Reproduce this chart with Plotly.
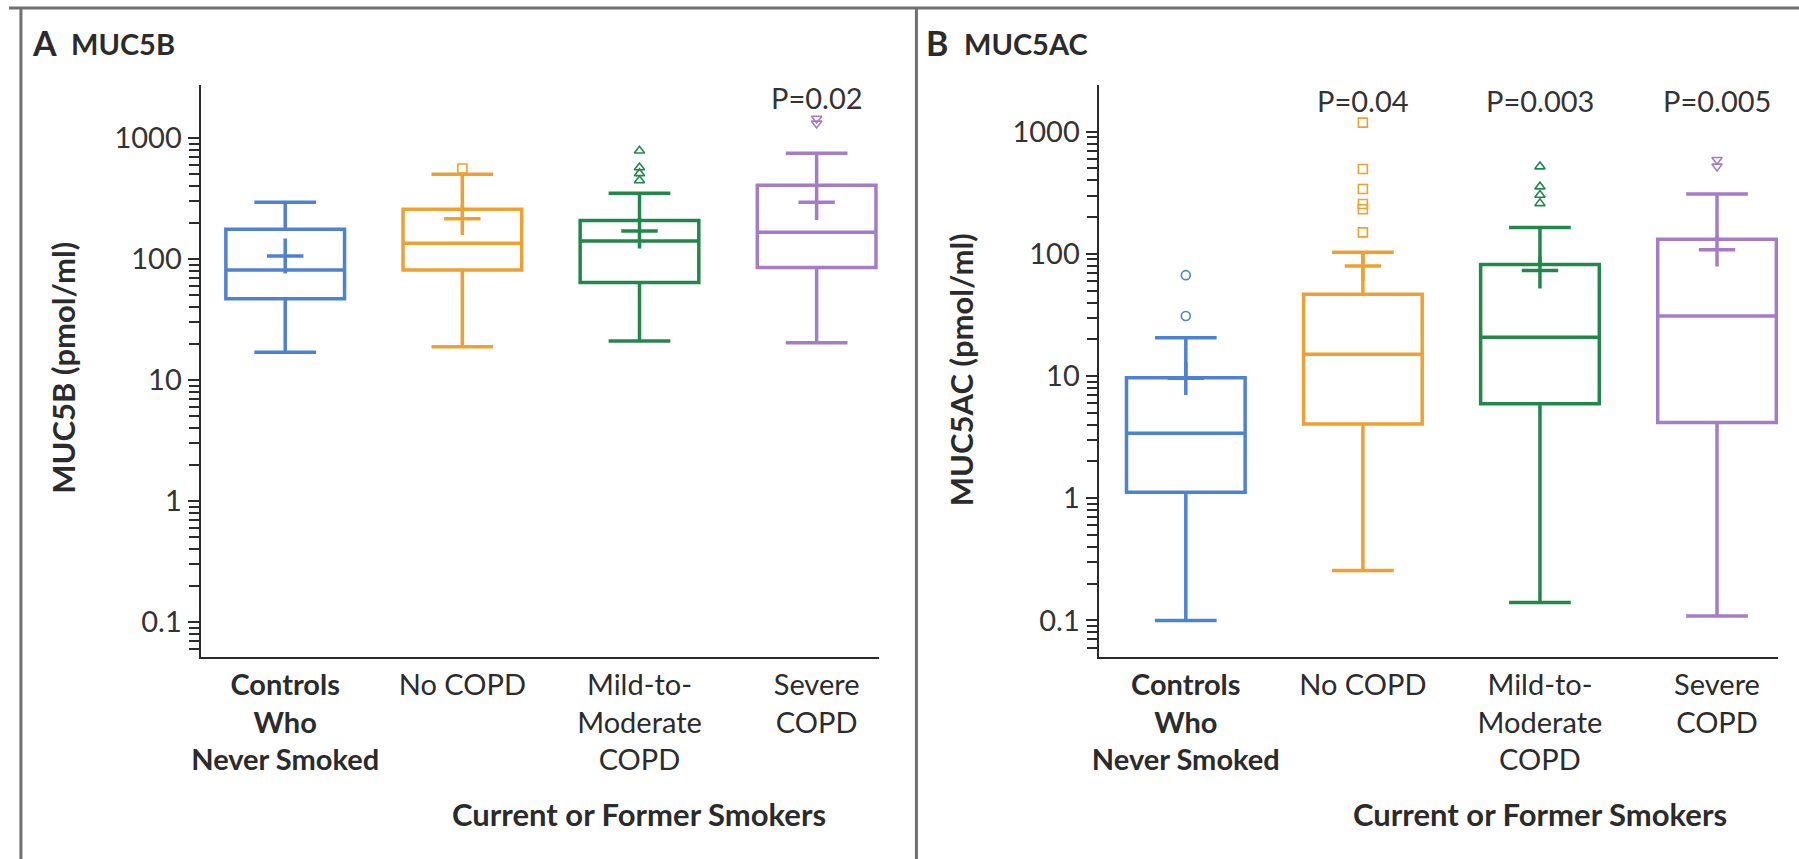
import plotly.graph_objects as go

# ---- data -------------------------------------------------------------
groups = ["Controls Who Never Smoked", "No COPD", "Mild-to-Moderate COPD", "Severe COPD"]
tick_text = ["<b>Controls</b><br><b>Who</b><br><b>Never Smoked</b>", "No COPD",
             "Mild-to-<br>Moderate<br>COPD", "Severe<br>COPD"]
colors = ["#4d82d2", "#f0a030", "#23874c", "#a57cc6"]
outlier_symbols = ["circle-open", "square-open", "triangle-up-open", "triangle-down-open"]

# MUC5B (pmol/ml)
b_q1 = [47, 81, 64, 85]
b_median = [81, 135, 141, 166]
b_q3 = [176, 258, 208, 406]
b_low = [17, 18.8, 21, 20.3]
b_high = [294, 501, 349, 747]
b_mean = [106, 215, 170, 294]
b_ci_lo = [76, 158, 122, 210]
b_ci_hi = [148, 279, 217, 396]
b_outliers = [[], [560], [785, 570, 510, 445], [1450, 1320]]
b_pvals = ["", "", "", "P=0.02"]

# MUC5AC (pmol/ml)
ac_q1 = [1.12, 4.06, 5.93, 4.17]
ac_median = [3.41, 15.1, 20.8, 31]
ac_q3 = [9.7, 46.8, 82, 132]
ac_low = [0.1, 0.256, 0.14, 0.109]
ac_high = [20.6, 103, 164, 309]
ac_mean = [9.6, 79.6, 73, 108]
ac_ci_lo = [7.0, 60, 52, 78.7]
ac_ci_hi = [13.0, 105, 95, 140]
ac_outliers = [[67, 31], [1185, 495, 340, 256, 232, 150], [518, 355, 303, 259], [590, 520]]
ac_pvals = ["", "P=0.04", "P=0.003", "P=0.005"]

y_tickvals = [0.1, 1, 10, 100, 1000]
y_ticktext = ["0.1", "1", "10", "100", "1000"]

# ---- layout helpers ---------------------------------------------------
W, H = 1799, 859
FONT = "Lato, 'Open Sans', sans-serif"
INK = "#2b2b2b"


def fx(px):
    return px / W


def fy(py):
    return 1 - py / H


minor_vals = [m * 10 ** e for e in range(-2, 3) for m in range(2, 10)
              if 0.04 < m * 10 ** e < 1000]

fig = go.Figure()


def add_panel(xa, ya, q1, med, q3, lo, hi, mean, ci_lo, ci_hi, outliers):
    for i in range(len(groups)):
        c = colors[i]
        fig.add_trace(go.Box(
            x=[i], q1=[q1[i]], median=[med[i]], q3=[q3[i]],
            lowerfence=[lo[i]], upperfence=[hi[i]],
            width=0.67, whiskerwidth=0.52, boxpoints=False,
            line=dict(color=c, width=3.5), fillcolor="rgba(0,0,0,0)",
            xaxis=xa, yaxis=ya, showlegend=False, hoverinfo="skip"))
        fig.add_trace(go.Scatter(
            x=[i], y=[mean[i]], mode="markers",
            marker=dict(symbol="line-ew", size=26, color=c,
                        line=dict(color=c, width=3.5)),
            error_y=dict(type="data", symmetric=False,
                         array=[ci_hi[i] - mean[i]], arrayminus=[mean[i] - ci_lo[i]],
                         thickness=3.5, width=0, color=c),
            xaxis=xa, yaxis=ya, showlegend=False, hoverinfo="skip"))
        if outliers[i]:
            fig.add_trace(go.Scatter(
                x=[i] * len(outliers[i]), y=outliers[i], mode="markers",
                marker=dict(symbol=outlier_symbols[i], size=9, color=c,
                            line=dict(color=c, width=1.6)),
                xaxis=xa, yaxis=ya, showlegend=False, hoverinfo="skip"))


add_panel("x", "y", b_q1, b_median, b_q3, b_low, b_high, b_mean,
          b_ci_lo, b_ci_hi, b_outliers)
add_panel("x2", "y2", ac_q1, ac_median, ac_q3, ac_low, ac_high, ac_mean,
          ac_ci_lo, ac_ci_hi, ac_outliers)


def x_axis(domain, rng, anchor):
    return dict(domain=domain, range=rng, anchor=anchor, showline=True,
                linecolor=INK, linewidth=2, ticks="", showgrid=False, zeroline=False,
                tickmode="array", tickvals=list(range(len(groups))), ticktext=tick_text,
                tickfont=dict(family=FONT, size=29, color=INK), ticklabelstandoff=1)


def y_axis(rng, anchor):
    return dict(type="log", domain=[fy(657), fy(85)], range=rng, anchor=anchor,
                showline=True, linecolor=INK, linewidth=2, showgrid=False, zeroline=False,
                ticks="outside", ticklen=11, tickwidth=2, tickcolor=INK,
                tickmode="array", tickvals=y_tickvals, ticktext=y_ticktext,
                tickfont=dict(family=FONT, size=29, color="#333"),
                minor=dict(tickmode="array", tickvals=minor_vals, ticks="outside",
                           ticklen=10, tickwidth=1.8, tickcolor=INK, showgrid=False))


annotations = []


def text(x, y, s, size, bold=False, xanchor="center", angle=0, xref="paper", color=INK):
    annotations.append(dict(
        x=x, y=y, xref=xref, yref="paper", text=f"<b>{s}</b>" if bold else s,
        showarrow=False, xanchor=xanchor, yanchor="middle", textangle=angle,
        font=dict(family=FONT, size=size, color=color)))


# panel headings
text(fx(21), fy(42), "A", 34, bold=True, xanchor="left")
text(fx(60), fy(44), "MUC5B", 29, bold=True, xanchor="left")
text(fx(920), fy(42), "B", 34, bold=True, xanchor="left")
text(fx(958), fy(44), "MUC5AC", 29, bold=True, xanchor="left")

# y-axis titles
text(fx(54), fy(368), "MUC5B (pmol/ml)", 31, bold=True, angle=-90)
text(fx(957), fy(370), "MUC5AC (pmol/ml)", 31, bold=True, angle=-90)

# group caption under the smoker categories
text(2, fy(814), "Current or Former Smokers", 31, bold=True, xref="x")
text(2, fy(814), "Current or Former Smokers", 31, bold=True, xref="x2")

# P values
for i, p in enumerate(b_pvals):
    if p:
        text(i, fy(97), p, 29, xref="x", color="#333")
for i, p in enumerate(ac_pvals):
    if p:
        text(i, fy(101), p, 29, xref="x2", color="#333")

frame = dict(color="#707070", width=3)
shapes = [
    dict(type="line", xref="paper", yref="paper", x0=0, x1=1, y0=fy(8), y1=fy(8), line=frame),
    dict(type="line", xref="paper", yref="paper", x0=fx(12), x1=fx(12), y0=0, y1=fy(8), line=frame),
    dict(type="line", xref="paper", yref="paper", x0=fx(912), x1=fx(912), y0=0, y1=fy(8), line=frame),
]

fig.update_layout(
    width=W, height=H, margin=dict(l=0, r=0, t=0, b=0),
    paper_bgcolor="white", plot_bgcolor="white",
    xaxis=x_axis([fx(192.5), fx(874)], [-0.478, 3.35], "y"),
    yaxis=y_axis([-1.289, 3.438], "x"),
    xaxis2=x_axis([fx(1095), fx(1778)], [-0.493, 3.345], "y2"),
    yaxis2=y_axis([-1.299, 3.382], "x2"),
    annotations=annotations, shapes=shapes, showlegend=False,
)

fig.write_html("out.html")
